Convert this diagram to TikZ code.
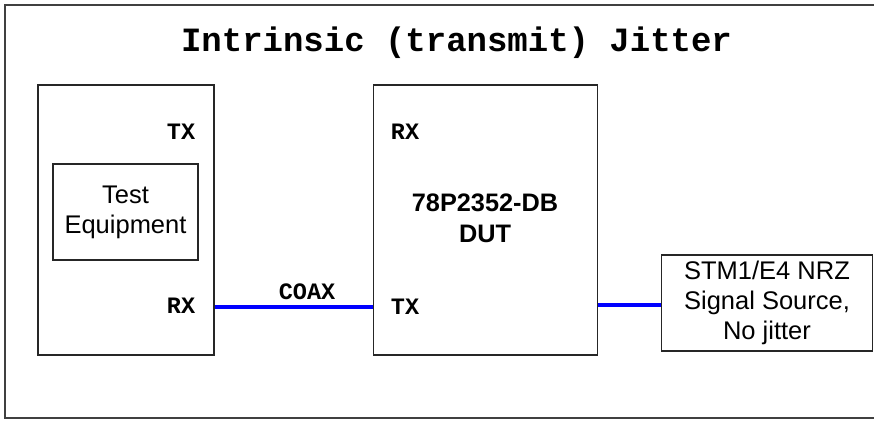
\documentclass[tikz,border=0pt]{standalone}
\usepackage{fontspec}
\setmainfont{Liberation Sans}
\setsansfont{Liberation Sans}
\setmonofont{Liberation Mono}
\newcommand\boxfont{\sffamily\fontsize{25.5}{30}\selectfont}
\newcommand\dutfont{\sffamily\bfseries\fontsize{25.3}{30.6}\selectfont}
\newcommand\portfont{\ttfamily\bfseries\fontsize{23.5}{28}\selectfont}
\newcommand\titlefont{\ttfamily\bfseries\fontsize{34}{40}\selectfont}
\begin{document}
\begin{tikzpicture}[x=1pt,y=-1pt,
  frame/.style={draw=black!75,line width=1.5pt},
  box/.style={draw=black!85,line width=1.3pt,inner sep=0pt,align=center,font=\boxfont,rectangle},
  port/.style={font=\portfont,inner sep=0pt,anchor=base},
  coax/.style={draw=blue,line width=4pt}]
\useasboundingbox (0,0) rectangle (874,420);
% outer frame (right side cut off)
\draw[frame] (874,5) -- (5,5) -- (5,418) -- (874,418);
% title
\node[font=\titlefont,inner sep=0pt,anchor=base] (title) at (456.5,51.7) {Intrinsic (transmit) Jitter};
% boxes
\node[box,minimum width=176pt,minimum height=270pt] (lbox) at (126,220) {};
\node[box,minimum width=145pt,minimum height=96pt] (test) at (125.5,212) {Test\\Equipment};
\node[box,minimum width=224pt,minimum height=270pt] (dut) at (485.2,220) {};
\node[box,minimum width=211.5pt,minimum height=96pt] (src) at (767,303) {STM1/E4 NRZ\\Signal Source,\\No jitter};
\node[font=\dutfont,align=center,inner sep=0pt,anchor=base] (dutname) at (485,242.3) {78P2352-DB\\DUT};
% port labels
\node[port] (ltx) at (181,139.3) {TX};
\node[port] (lrx) at (181,313.3) {RX};
\node[port] (drx) at (405,139.3) {RX};
\node[port] (dtx) at (405,314) {TX};
\node[port] (coaxlbl) at (307,299.3) {COAX};
% connectors
\draw[coax] (lbox.east |- 0,307) -- (dut.west |- 0,307);
\draw[coax] (dut.east |- 0,305) -- (src.west |- 0,305);
\end{tikzpicture}
\end{document}
